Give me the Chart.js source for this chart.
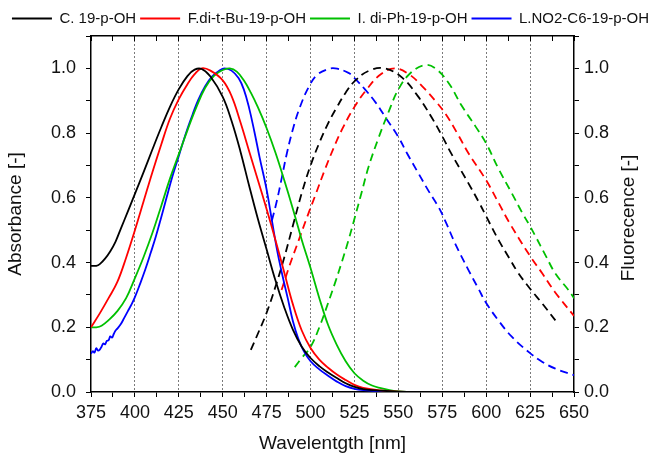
<!DOCTYPE html>
<html>
<head>
	<title>Absorbance / Fluorescence spectra</title>
	<meta charset="UTF-8">
	<script src="https://cdn.jsdelivr.net/npm/chart.js"></script>
	<style type="text/css">
		body { margin: 0; background: #ffffff; }
		.chart-container { width: 661px; height: 455px; }
	</style>
</head>
<body>
	<div class="chart-container">
		<canvas id="chart" width="661" height="455"></canvas>
	</div>
	<script type="text/javascript">
// series names (legend) and axis range
const seriesNames = ['C. 19-p-OH', 'F.di-t-Bu-19-p-OH', 'I. di-Ph-19-p-OH', 'L.NO2-C6-19-p-OH'];
const xMin = 375, xMax = 650;

// absorbance, solid lines (left axis)
const absWlC = [375,378,380,383,386,389,392,396,400,405,410,415,420,425,430,434,438,443,450,455,460,465,470,475,480,485,490,495,500,505,510,515,520,525,530,540,550,560,650];
const absC   = [0.39,0.39,0.395,0.412,0.435,0.465,0.505,0.558,0.612,0.68,0.75,0.818,0.882,0.936,0.977,0.996,0.998,0.975,0.912,0.838,0.745,0.638,0.535,0.44,0.345,0.262,0.192,0.14,0.105,0.08,0.06,0.043,0.027,0.016,0.009,0.004,0.001,0,0];

const absWlF = [375,380,385,390,395,400,405,410,415,420,425,430,434,438,443,450,455,460,465,470,475,480,485,490,495,500,505,510,515,520,525,530,540,550,560,650];
const absF   = [0.2,0.243,0.29,0.34,0.415,0.5,0.59,0.68,0.765,0.845,0.905,0.952,0.982,1.0,0.993,0.963,0.915,0.835,0.745,0.655,0.565,0.47,0.37,0.27,0.19,0.136,0.1,0.075,0.054,0.037,0.022,0.013,0.005,0.001,0,0];

const absWlI = [375,378,381,385,390,395,400,405,410,415,420,425,430,435,440,445,450,454,458,462,466,470,475,480,485,490,495,500,505,510,515,520,525,530,535,540,545,550,560,650];
const absI   = [0.2,0.2,0.205,0.222,0.25,0.29,0.352,0.418,0.492,0.575,0.66,0.735,0.81,0.88,0.94,0.977,0.995,1.0,0.99,0.963,0.925,0.88,0.815,0.74,0.655,0.565,0.47,0.383,0.29,0.207,0.145,0.095,0.058,0.035,0.02,0.012,0.006,0.002,0,0];

const absWlL = [375,376,377,378,379,380,381,382,383,384,385,386,387,388,389,390,392,394,396,398,400,403,406,409,412,415,418,421,424,427,430,433,436,440,444,448,451,455,459,462,465,468,471,475,478,481,484,487,490,493,496,500,505,510,515,520,525,530,540,550,650];
const absL   = [0.118,0.126,0.122,0.135,0.128,0.131,0.14,0.15,0.147,0.158,0.16,0.172,0.168,0.18,0.19,0.196,0.21,0.23,0.25,0.27,0.293,0.335,0.38,0.43,0.482,0.54,0.6,0.66,0.712,0.765,0.815,0.86,0.902,0.945,0.975,0.993,1.0,0.993,0.97,0.935,0.878,0.805,0.725,0.625,0.53,0.437,0.36,0.29,0.218,0.165,0.128,0.095,0.07,0.05,0.032,0.018,0.01,0.006,0.002,0,0];

// fluorescence, dashed lines (right axis)
const flWlC = [466,470,475,480,485,490,495,500,505,510,515,520,525,533,542,552,561,569,575,580,590,596,600,607,613,618,625,632,641];
const flC   = [0.13,0.18,0.245,0.325,0.415,0.515,0.615,0.7,0.77,0.83,0.88,0.925,0.96,0.992,1.0,0.972,0.915,0.848,0.79,0.738,0.644,0.585,0.543,0.47,0.415,0.37,0.319,0.273,0.21];

const flWlF = [483.5,488,493,498,503,508,513,518,525,532,540,548,556,563.5,571,577,584,590,600,607,613,625,632,639,650];
const flF   = [0.315,0.39,0.465,0.54,0.612,0.685,0.752,0.812,0.881,0.935,0.982,1.0,0.982,0.945,0.9,0.858,0.795,0.737,0.654,0.585,0.525,0.42,0.366,0.31,0.235];

const flWlI = [491,495,500,505,510,514,518,521.6,525,529,533,538.7,544.4,550,556.8,565,571,578.6,586,594,600,607,614.7,620.4,625,628,634,639.4,647,650];
const flI   = [0.077,0.105,0.139,0.2,0.275,0.338,0.405,0.469,0.535,0.615,0.695,0.785,0.865,0.935,0.985,1.01,1.0,0.955,0.885,0.82,0.768,0.69,0.613,0.555,0.512,0.482,0.42,0.366,0.314,0.29];

const flWlL = [478,480.8,483.7,486.5,490.3,494,499,503.6,509,514,521.6,525,531,537,542.5,550,555,561.5,567,573,577,582.4,590,595.7,600,607,614.7,625,632,639.4,650];
const flL   = [0.53,0.59,0.664,0.737,0.819,0.881,0.943,0.979,0.996,1.0,0.986,0.97,0.935,0.895,0.85,0.788,0.737,0.675,0.623,0.57,0.525,0.458,0.376,0.318,0.275,0.221,0.17,0.12,0.093,0.072,0.052];

// styling
const colors = ['#000000', '#ff0000', '#00c000', '#0000ff'];
const FONT = '"Liberation Sans", Arial, sans-serif';

function pts(wl, vals) {
  return wl.map(function(x, i) { return {x: x, y: vals[i]}; });
}

var absSeries = [[absWlC, absC], [absWlF, absF], [absWlI, absI], [absWlL, absL]];
var flSeries = [[flWlC, flC], [flWlF, flF], [flWlI, flI], [flWlL, flL]];
var datasets = [];

absSeries.forEach(function(s, i) {
  datasets.push({
    label: seriesNames[i],
    data: pts(s[0], s[1]),
    borderColor: colors[i],
    backgroundColor: colors[i],
    borderWidth: 1.8,
    pointRadius: 0,
    tension: 0.4,
    yAxisID: 'y'
  });
});
flSeries.forEach(function(s, i) {
  datasets.push({
    label: seriesNames[i] + ' (fl)',
    data: pts(s[0], s[1]),
    borderColor: colors[i],
    backgroundColor: colors[i],
    borderWidth: 1.8,
    borderDash: [8, 5],
    pointRadius: 0,
    tension: 0.4,
    yAxisID: 'y2'
  });
});

// right axis title reads bottom-to-top, Chart.js would rotate it the other way
const rightTitle = {
  id: 'rightTitle',
  afterDraw: function(chart) {
    var ctx = chart.ctx, area = chart.chartArea;
    ctx.save();
    ctx.font = '19px ' + FONT;
    ctx.fillStyle = '#111';
    ctx.textAlign = 'center';
    ctx.textBaseline = 'middle';
    ctx.translate(chart.width - 32, (area.top + area.bottom) / 2 + 4);
    ctx.rotate(-Math.PI / 2);
    ctx.fillText('Fluorecence [-]', 0, 0);
    ctx.restore();
  }
};

function yLabel(v) {
  var k = Math.round(v * 10);
  return (k % 2 === 0 && k <= 10) ? v.toFixed(1) : '';
}

function yAxis(pos, width, pad, title) {
  return {
    type: 'linear',
    position: pos,
    min: 0,
    max: 1.1,
    afterFit: function(scale) { scale.width = width; },
    ticks: {
      stepSize: 0.1,
      autoSkip: false,
      maxTicksLimit: 100,
      padding: pad,
      color: '#111',
      font: { family: FONT, size: 18 },
      callback: yLabel
    },
    grid: { drawOnChartArea: false, tickLength: 5, tickColor: '#000', tickWidth: 1 },
    border: { display: true, color: '#000', width: 1.5 },
    title: title
  };
}

new Chart(document.getElementById('chart').getContext('2d'), {
  type: 'line',
  data: { datasets: datasets },
  plugins: [rightTitle],
  options: {
    responsive: false,
    animation: false,
    layout: { padding: { top: 7, left: 0, right: 0, bottom: 0 } },
    plugins: {
      tooltip: { enabled: false },
      legend: {
        display: true,
        position: 'top',
        labels: {
          boxWidth: 40,
          boxHeight: 2,
          padding: 4,
          color: '#111',
          font: { family: FONT, size: 15 },
          generateLabels: function(chart) {
            return Chart.defaults.plugins.legend.labels.generateLabels(chart)
              .filter(function(l) { return l.datasetIndex < 4; })
              .map(function(l) { l.lineWidth = 0; l.fillStyle = colors[l.datasetIndex]; return l; });
          }
        }
      }
    },
    scales: {
      x: {
        type: 'linear',
        position: 'bottom',
        min: xMin,
        max: xMax,
        afterFit: function(scale) { scale.height = 63; },
        ticks: {
          stepSize: 12.5,
          autoSkip: false,
          maxTicksLimit: 100,
          maxRotation: 0,
          padding: 5,
          color: '#111',
          font: { family: FONT, size: 18 },
          callback: function(v) { return v % 25 === 0 ? v : ''; }
        },
        grid: {
          color: function(ctx) {
            var v = ctx.tick ? ctx.tick.value : 0;
            return (v % 25 === 0 && v > xMin && v < xMax) ? '#7a7a7a' : 'rgba(0,0,0,0)';
          },
          lineWidth: 1,
          tickLength: 5,
          tickColor: '#000',
          tickWidth: 1
        },
        border: { display: true, color: '#000', width: 1.5, dash: [2, 2] },
        title: {
          display: true,
          text: 'Wavelentgth [nm]',
          color: '#111',
          font: { family: FONT, size: 19 },
          padding: { top: 0, bottom: 0 }
        }
      },
      x2: {
        type: 'linear',
        position: 'top',
        min: xMin,
        max: xMax,
        afterFit: function(scale) { scale.height = 0; },
        ticks: { display: false, stepSize: 12.5, maxTicksLimit: 100, autoSkip: false },
        grid: { drawOnChartArea: false, tickLength: -5, tickColor: '#000', tickWidth: 1 },
        border: { display: true, color: '#000', width: 1.5 }
      },
      y: yAxis('left', 91, 10, {
        display: true,
        text: 'Absorbance [-]',
        color: '#111',
        font: { family: FONT, size: 19 },
        padding: { top: 4, bottom: 0 }
      }),
      y2: yAxis('right', 87, 5, { display: false })
    }
  }
});
	</script>
</body>
</html>
